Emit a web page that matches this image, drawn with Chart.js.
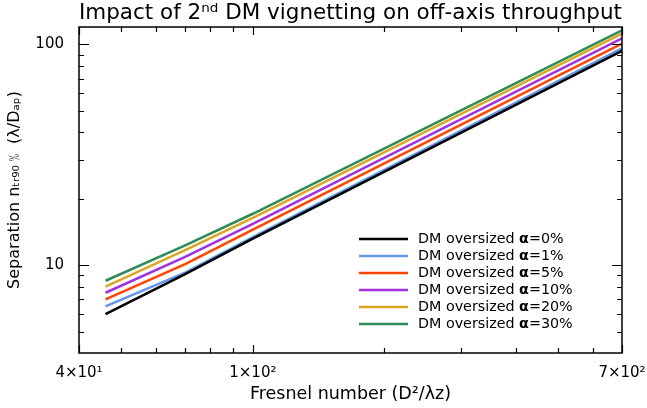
<!DOCTYPE html>
<html>
<head>
<meta charset="utf-8">
<script src="https://cdn.jsdelivr.net/npm/chart.js@4.4.1/dist/chart.umd.min.js"></script>
<style>
  html, body { margin: 0; padding: 0; background: #fff; }
</style>
</head>
<body>
<canvas id="vignetting" width="647" height="408"></canvas>
<script>
// ==========================================
// 2nd DM VIGNETTING vs FRESNEL NUMBER (log-log)
// ==========================================

const FONT = "'DejaVu Sans', sans-serif";

// data
const fresnel = [46, 70, 100, 700];
const oversize = [0, 1, 5, 10, 20, 30];
const sepA0 = [6.0, 9.1, 13.2, 93.5];
const sepA1 = [6.5, 9.25, 13.4, 96.0];
const sepA5 = [7.0, 10.1, 14.5, 101.0];
const sepA10 = [7.5, 10.9, 15.4, 106.5];
const sepA20 = [8.0, 11.7, 16.4, 112.0];
const sepA30 = [8.5, 12.3, 17.1, 116.0];
const seriesColors = ['#000000', '#6495ED', '#FF4500', '#A030E0', '#DAA520', '#2E8B57'];

// axes
const xTickLabels = [40, 100, 700];
const yTickLabels = [10, 100];
const xMinorTicks = [50, 60, 70, 80, 90, 200, 300, 400, 500, 600];
const yMinorTicks = [5, 6, 7, 8, 9, 20, 30, 40, 50, 60, 70, 80, 90];

const SUP = { '0': '⁰', '1': '¹', '2': '²', '3': '³', '4': '⁴', '5': '⁵', '6': '⁶', '7': '⁷', '8': '⁸', '9': '⁹' };
function sciLabel(v) {
  const exp = Math.floor(Math.log10(v) + 1e-9);
  const mant = Math.round(v / Math.pow(10, exp));
  return mant + '×10' + String(exp).split('').map(c => SUP[c]).join('');
}

const allSeries = [sepA0, sepA1, sepA5, sepA10, sepA20, sepA30];

const datasets = allSeries.map(function (vals, i) {
  return {
    label: 'DM oversized α=' + oversize[i] + '%',
    data: fresnel.map((f, k) => ({ x: f, y: vals[k] })),
    borderColor: seriesColors[i],
    backgroundColor: seriesColors[i],
    borderWidth: 2.5,
    pointRadius: 0,
    tension: 0,
    fill: false,
  };
});

// box frame with inward ticks on all four sides
const boxTicks = {
  id: 'boxTicks',
  afterDatasetsDraw(chart) {
    const { ctx, chartArea: a, scales } = chart;
    const x = scales.x, y = scales.y;
    ctx.save();
    ctx.strokeStyle = '#000';
    ctx.lineWidth = 1.2;
    ctx.beginPath();
    function xt(v, len) {
      const p = Math.round(x.getPixelForValue(v)) + 0.5;
      ctx.moveTo(p, a.bottom); ctx.lineTo(p, a.bottom - len);
      ctx.moveTo(p, a.top); ctx.lineTo(p, a.top + len);
    }
    function yt(v, len) {
      const p = Math.round(y.getPixelForValue(v)) + 0.5;
      ctx.moveTo(a.left, p); ctx.lineTo(a.left + len, p);
      ctx.moveTo(a.right, p); ctx.lineTo(a.right - len, p);
    }
    xTickLabels.forEach(v => xt(v, 8));
    xMinorTicks.forEach(v => xt(v, 5));
    yTickLabels.forEach(v => yt(v, 10));
    yMinorTicks.forEach(v => yt(v, 5));
    ctx.stroke();
    ctx.lineWidth = 1.5;
    ctx.strokeRect(a.left, a.top, a.right - a.left, a.bottom - a.top);
    ctx.restore();
  },
};

// legend inside the plot, lower right
const insetLegend = {
  id: 'insetLegend',
  afterDraw(chart) {
    const { ctx, chartArea: a } = chart;
    const x0 = a.left + 280, lineLen = 49, y0 = a.top + 212, step = 17;
    ctx.save();
    ctx.textBaseline = 'middle';
    chart.data.datasets.forEach(function (ds, i) {
      const yy = y0 + i * step;
      ctx.strokeStyle = ds.borderColor;
      ctx.lineWidth = 2.5;
      ctx.beginPath();
      ctx.moveTo(x0, yy); ctx.lineTo(x0 + lineLen, yy);
      ctx.stroke();
      ctx.fillStyle = '#000';
      let tx = x0 + lineLen + 10;
      const parts = [['DM oversized ', 'normal'], ['α', 'bold'], ['=' + oversize[i] + '%', 'normal']];
      parts.forEach(function (p) {
        ctx.font = p[1] + ' 14.3px ' + FONT;
        ctx.fillText(p[0], tx, yy);
        tx += ctx.measureText(p[0]).width;
      });
    });
    ctx.restore();
  },
};

const vignettingConfig = {
  type: 'line',
  data: { datasets: datasets },
  options: {
    responsive: false,
    animation: false,
    events: [],
    layout: { padding: { top: 0, right: 25, bottom: 0, left: 0 } },
    plugins: {
      legend: { display: false },
      tooltip: { enabled: false },
      title: {
        display: true,
        fullSize: false,
        text: 'Impact of 2ⁿᵈ DM vignetting on off-axis throughput',
        color: '#000',
        font: { family: FONT, size: 22, weight: 'normal', lineHeight: 1.05 },
        padding: { top: 1.5, bottom: 2.4 },
      },
    },
    scales: {
      x: {
        type: 'logarithmic',
        min: 40,
        max: 700,
        grid: { display: false },
        border: { display: false },
        afterBuildTicks: function (s) { s.ticks = xTickLabels.map(v => ({ value: v })); },
        afterFit: function (s) { s.height = 55; s.paddingLeft = 0; s.paddingRight = 0; },
        ticks: {
          color: '#000',
          padding: 3,
          maxRotation: 0,
          autoSkip: false,
          font: { family: FONT, size: 15 },
          callback: v => sciLabel(v),
        },
        title: {
          display: true,
          text: 'Fresnel number (D²/λz)',
          color: '#000',
          font: { family: FONT, size: 17.5, lineHeight: 1.2 },
          padding: { top: 0, bottom: 3 },
        },
      },
      y: {
        type: 'logarithmic',
        min: 4,
        max: 120,
        grid: { display: false },
        border: { display: false },
        afterBuildTicks: function (s) { s.ticks = yTickLabels.map(v => ({ value: v })); },
        afterFit: function (s) { s.width = 79; },
        ticks: {
          color: '#000',
          padding: 7,
          autoSkip: false,
          font: { family: FONT, size: 15 },
          callback: v => String(v),
        },
        title: {
          display: true,
          text: 'Separation nₜᵣ₉₀﹪ (λ/Dₐₚ)',
          color: '#000',
          font: { family: FONT, size: 16, lineHeight: 1.2 },
          padding: { top: 5, bottom: 0 },
        },
      },
    },
  },
  plugins: [boxTicks, insetLegend],
};

const vignettingChart = new Chart(
  document.getElementById('vignetting'),
  vignettingConfig
);
</script>
</body>
</html>
